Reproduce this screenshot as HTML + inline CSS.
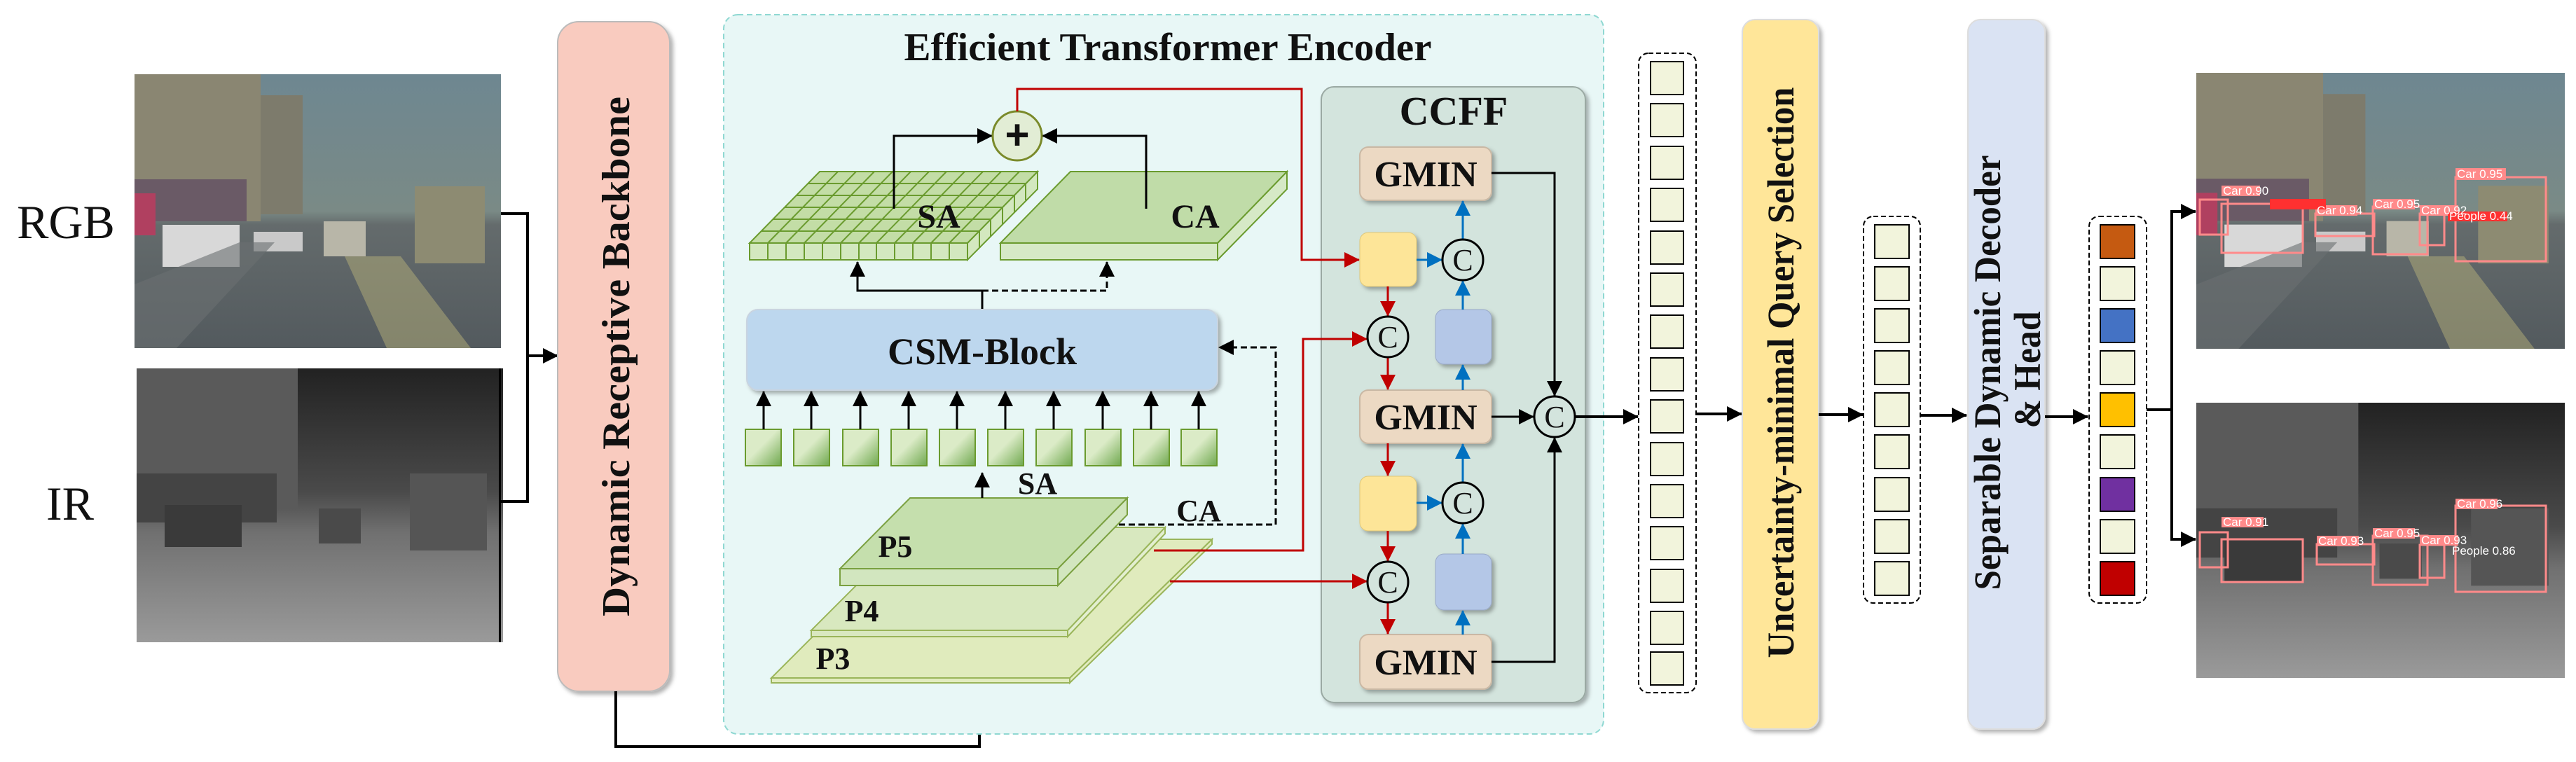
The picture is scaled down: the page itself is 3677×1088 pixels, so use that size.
<!DOCTYPE html>
<html><head><meta charset="utf-8"><style>
html,body{margin:0;padding:0;background:#fff;}
svg{display:block;}
text{font-family:"Liberation Serif",serif;font-weight:bold;fill:#111;}
.lbl{font-family:"Liberation Sans",sans-serif;font-weight:normal;fill:#fff;font-size:17px;}
</style></head><body>
<svg width="3677" height="1088" viewBox="0 0 3677 1088" xmlns="http://www.w3.org/2000/svg">
<defs>
<marker id="akb" markerWidth="22" markerHeight="22" refX="21" refY="11" orient="auto" markerUnits="userSpaceOnUse"><path d="M0,0 L22,11 L0,22 z" fill="#000"/></marker>
<marker id="ar" markerWidth="22" markerHeight="22" refX="21" refY="11" orient="auto" markerUnits="userSpaceOnUse"><path d="M0,0 L22,11 L0,22 z" fill="#c00000"/></marker>
<marker id="ab" markerWidth="22" markerHeight="22" refX="21" refY="11" orient="auto" markerUnits="userSpaceOnUse"><path d="M0,0 L22,11 L0,22 z" fill="#0070c0"/></marker>
<linearGradient id="sq" x1="0" y1="0" x2="1" y2="1"><stop offset="0.45" stop-color="#dbebc7"/><stop offset="1" stop-color="#6fa84e"/></linearGradient>
<linearGradient id="rgbg" x1="0" y1="0" x2="0" y2="1"><stop offset="0" stop-color="#6e8791"/><stop offset="0.5" stop-color="#7a8a86"/><stop offset="0.55" stop-color="#646b6c"/><stop offset="1" stop-color="#535a5e"/></linearGradient>
<linearGradient id="irg" x1="0" y1="0" x2="0" y2="1"><stop offset="0" stop-color="#222"/><stop offset="0.45" stop-color="#4a4a4a"/><stop offset="0.6" stop-color="#707070"/><stop offset="1" stop-color="#9a9a9a"/></linearGradient>
<filter id="sh" x="-10%" y="-10%" width="130%" height="130%"><feDropShadow dx="4" dy="4" stdDeviation="3" flood-color="#000" flood-opacity="0.3"/></filter>
<g id="rgbpic">
<rect width="523" height="391" fill="url(#rgbg)"/>
<rect x="0" y="0" width="180" height="210" fill="#8a8672"/>
<rect x="180" y="30" width="60" height="170" fill="#7d7b6c"/>
<rect x="0" y="150" width="160" height="60" fill="#6a5a66"/>
<rect x="0" y="170" width="30" height="60" fill="#b04060"/>
<rect x="400" y="160" width="100" height="110" fill="#8d8b72"/>
<rect x="270" y="210" width="60" height="50" fill="#b8b6a8"/>
<rect x="40" y="215" width="110" height="60" fill="#d8d8d8"/>
<rect x="170" y="225" width="70" height="28" fill="#c9c9c9"/>
<path d="M0,300 L150,240 L200,240 L60,391 L0,391z" fill="#6b7072" opacity="0.6"/>
<path d="M300,260 L380,260 L480,391 L360,391z" fill="#b5b07a" opacity="0.5"/>
</g>
<g id="irpic">
<rect width="523" height="391" fill="url(#irg)"/>
<rect x="0" y="0" width="230" height="200" fill="#5a5a5a"/>
<rect x="0" y="150" width="200" height="70" fill="#444"/>
<rect x="390" y="150" width="110" height="110" fill="#555"/>
<rect x="40" y="195" width="110" height="60" fill="#3a3a3a"/>
<rect x="260" y="200" width="60" height="50" fill="#4a4a4a"/>
</g>
</defs>

<use href="#rgbpic" x="192" y="106"/>
<use href="#irpic" x="195" y="526"/>
<rect x="712" y="526" width="3" height="391" fill="#000"/>
<text x="94" y="340" font-size="68" text-anchor="middle" style="font-weight:normal">RGB</text>
<text x="100" y="742" font-size="68" text-anchor="middle" style="font-weight:normal">IR</text>
<polyline points="715,305 753,305 753,716 715,716" fill="none" stroke="#000" stroke-width="4"/>
<line x1="753" y1="508" x2="796" y2="508" stroke="#000" stroke-width="4" marker-end="url(#akb)"/>

<rect x="796" y="31" width="160" height="956" rx="30" fill="#f9cbbf" stroke="#bbb" stroke-width="2" filter="url(#sh)"/>
<text transform="translate(898,509) rotate(-90)" font-size="56" text-anchor="middle" textLength="742" lengthAdjust="spacingAndGlyphs">Dynamic Receptive  Backbone</text>
<polyline points="879,987 879,1066 1398,1066 1398,1020" fill="none" stroke="#000" stroke-width="4" marker-end="url(#akb)"/>

<rect x="1033" y="21" width="1256" height="1027" rx="20" fill="#e8f7f6" stroke="#8fd8d2" stroke-width="2" stroke-dasharray="8,5"/>
<text x="1667" y="86" font-size="56" text-anchor="middle" textLength="753" lengthAdjust="spacingAndGlyphs">Efficient Transformer Encoder</text>

<!-- CCFF panel (drawn before red connectors) -->
<rect x="1886" y="124" width="377" height="879" rx="18" fill="#d3e4dd" stroke="#9aa9a3" stroke-width="2" filter="url(#sh)"/>
<text x="2075" y="178" font-size="58" text-anchor="middle">CCFF</text>

<polygon points="1070,347 1381,347 1381,371 1070,371" fill="#d3e8bf" stroke="#6a9b2e" stroke-width="2"/>
<polygon points="1381,347 1481,245 1481,270 1381,371" fill="#d3e8bf" stroke="#6a9b2e" stroke-width="2"/>
<polygon points="1170,245 1481,245 1381,347 1070,347" fill="#c3dda6" stroke="#6a9b2e" stroke-width="2"/>
<g stroke="#6a9b2e" stroke-width="2">
<line x1="1196" y1="245" x2="1096" y2="347"/><line x1="1222" y1="245" x2="1122" y2="347"/><line x1="1248" y1="245" x2="1148" y2="347"/><line x1="1274" y1="245" x2="1174" y2="347"/><line x1="1300" y1="245" x2="1200" y2="347"/><line x1="1326" y1="245" x2="1226" y2="347"/><line x1="1351" y1="245" x2="1251" y2="347"/><line x1="1377" y1="245" x2="1277" y2="347"/><line x1="1403" y1="245" x2="1303" y2="347"/><line x1="1429" y1="245" x2="1329" y2="347"/><line x1="1455" y1="245" x2="1355" y2="347"/>
<line x1="1153" y1="262" x2="1464" y2="262"/><line x1="1137" y1="279" x2="1448" y2="279"/><line x1="1120" y1="296" x2="1431" y2="296"/><line x1="1103" y1="313" x2="1414" y2="313"/><line x1="1087" y1="330" x2="1398" y2="330"/>
<line x1="1096" y1="347" x2="1096" y2="371"/><line x1="1122" y1="347" x2="1122" y2="371"/><line x1="1148" y1="347" x2="1148" y2="371"/><line x1="1174" y1="347" x2="1174" y2="371"/><line x1="1200" y1="347" x2="1200" y2="371"/><line x1="1226" y1="347" x2="1226" y2="371"/><line x1="1251" y1="347" x2="1251" y2="371"/><line x1="1277" y1="347" x2="1277" y2="371"/><line x1="1303" y1="347" x2="1303" y2="371"/><line x1="1329" y1="347" x2="1329" y2="371"/><line x1="1355" y1="347" x2="1355" y2="371"/>
<line x1="1398" y1="330" x2="1398" y2="354"/><line x1="1414" y1="313" x2="1414" y2="337"/><line x1="1431" y1="296" x2="1431" y2="320"/><line x1="1448" y1="279" x2="1448" y2="303"/><line x1="1464" y1="262" x2="1464" y2="286"/>
</g>
<polygon points="1428,347 1738,347 1738,371 1428,371" fill="#d6e9c6" stroke="#6a9b2e" stroke-width="2"/>
<polygon points="1738,347 1837,245 1837,270 1738,371" fill="#d6e9c6" stroke="#6a9b2e" stroke-width="2"/>
<polygon points="1528,245 1837,245 1738,347 1428,347" fill="#c0dca8" stroke="#6a9b2e" stroke-width="2"/>
<text x="1340" y="325" font-size="48" text-anchor="middle">SA</text>
<text x="1706" y="325" font-size="48" text-anchor="middle">CA</text>

<polyline points="1276,298 1276,194 1416,194" fill="none" stroke="#000" stroke-width="3" marker-end="url(#akb)"/>
<polyline points="1636,298 1636,194 1488,194" fill="none" stroke="#000" stroke-width="3" marker-end="url(#akb)"/>
<circle cx="1452" cy="194" r="35" fill="#e2edd5" stroke="#7a8a2a" stroke-width="3"/>
<text x="1452" y="213" font-size="60" text-anchor="middle" style="font-family:'Liberation Sans',sans-serif">+</text>
<polyline points="1452,159 1452,127 1858,127 1858,371 1940,371" fill="none" stroke="#c00000" stroke-width="3" marker-end="url(#ar)"/>

<line x1="1402" y1="441" x2="1402" y2="415" stroke="#000" stroke-width="3"/>
<polyline points="1402,415 1224,415 1224,374" fill="none" stroke="#000" stroke-width="3" marker-end="url(#akb)"/>
<polyline points="1402,415 1580,415 1580,374" fill="none" stroke="#000" stroke-width="3" stroke-dasharray="9,5" marker-end="url(#akb)"/>
<rect x="1066" y="442" width="672" height="115" rx="16" fill="#bdd7ee" stroke="#c9d4e0" stroke-width="2" filter="url(#sh)"/>
<text x="1402" y="520" font-size="54" text-anchor="middle">CSM-Block</text>

<g stroke="#6a9b2e" stroke-width="2" fill="url(#sq)">
<rect x="1064" y="613" width="51" height="52"/><rect x="1133" y="613" width="51" height="52"/><rect x="1203" y="613" width="51" height="52"/><rect x="1272" y="613" width="51" height="52"/><rect x="1341" y="613" width="51" height="52"/><rect x="1410" y="613" width="51" height="52"/><rect x="1479" y="613" width="51" height="52"/><rect x="1549" y="613" width="51" height="52"/><rect x="1618" y="613" width="51" height="52"/><rect x="1686" y="613" width="51" height="52"/>
</g>
<g stroke="#000" stroke-width="3">
<line x1="1090" y1="613" x2="1090" y2="559" marker-end="url(#akb)"/><line x1="1158" y1="613" x2="1158" y2="559" marker-end="url(#akb)"/><line x1="1228" y1="613" x2="1228" y2="559" marker-end="url(#akb)"/><line x1="1297" y1="613" x2="1297" y2="559" marker-end="url(#akb)"/><line x1="1366" y1="613" x2="1366" y2="559" marker-end="url(#akb)"/><line x1="1435" y1="613" x2="1435" y2="559" marker-end="url(#akb)"/><line x1="1504" y1="613" x2="1504" y2="559" marker-end="url(#akb)"/><line x1="1574" y1="613" x2="1574" y2="559" marker-end="url(#akb)"/><line x1="1643" y1="613" x2="1643" y2="559" marker-end="url(#akb)"/><line x1="1711" y1="613" x2="1711" y2="559" marker-end="url(#akb)"/>
</g>

<polygon points="1101,968 1527,968 1527,975 1101,975" fill="#e2ecc0" stroke="#9ab55a" stroke-width="2"/>
<polygon points="1527,968 1730,770 1730,777 1527,975" fill="#e2ecc0" stroke="#9ab55a" stroke-width="2"/>
<polygon points="1299,770 1730,770 1527,968 1101,968" fill="#e0ebbd" stroke="#9ab55a" stroke-width="2"/>
<polygon points="1158,900 1524,900 1524,909 1158,909" fill="#d9e8c0" stroke="#9ab55a" stroke-width="2"/>
<polygon points="1524,900 1663,753 1663,762 1524,909" fill="#e3efd0" stroke="#9ab55a" stroke-width="2"/>
<polygon points="1305,753 1663,753 1524,900 1158,900" fill="#d8e8bf" stroke="#9ab55a" stroke-width="2"/>
<polygon points="1199,812 1510,812 1510,836 1199,836" fill="#d2e6bf" stroke="#7aa040" stroke-width="2"/>
<polygon points="1510,812 1609,711 1609,735 1510,836" fill="#d2e6bf" stroke="#7aa040" stroke-width="2"/>
<polygon points="1299,711 1609,711 1510,812 1199,812" fill="#c5dfad" stroke="#7aa040" stroke-width="2"/>
<text x="1278" y="795" font-size="44" text-anchor="middle">P5</text>
<text x="1230" y="887" font-size="44" text-anchor="middle">P4</text>
<text x="1189" y="955" font-size="44" text-anchor="middle">P3</text>
<line x1="1402" y1="711" x2="1402" y2="675" stroke="#000" stroke-width="3" marker-end="url(#akb)"/>
<text x="1481" y="705" font-size="44" text-anchor="middle">SA</text>
<text x="1711" y="744" font-size="44" text-anchor="middle">CA</text>
<polyline points="1597,749 1821,749 1821,496 1740,496" fill="none" stroke="#000" stroke-width="3" stroke-dasharray="9,5" marker-end="url(#akb)"/>
<polyline points="1647,786 1860,786 1860,484 1951,484" fill="none" stroke="#c00000" stroke-width="3" marker-end="url(#ar)"/>
<polyline points="1670,830 1951,830" fill="none" stroke="#c00000" stroke-width="3" marker-end="url(#ar)"/>

<g filter="url(#sh)">
<rect x="1941" y="210" width="188" height="76" rx="12" fill="#ecd9c3" stroke="#c9b8a4" stroke-width="2"/>
<rect x="1941" y="557" width="188" height="76" rx="12" fill="#ecd9c3" stroke="#c9b8a4" stroke-width="2"/>
<rect x="1941" y="906" width="188" height="78" rx="12" fill="#ecd9c3" stroke="#c9b8a4" stroke-width="2"/>
<rect x="1941" y="332" width="81" height="77" rx="12" fill="#fde598" stroke="#e0c878" stroke-width="1"/>
<rect x="1941" y="680" width="81" height="78" rx="12" fill="#fde598" stroke="#e0c878" stroke-width="1"/>
<rect x="2049" y="442" width="80" height="78" rx="12" fill="#b4c7e7" stroke="#9aaac8" stroke-width="1"/>
<rect x="2049" y="791" width="80" height="80" rx="12" fill="#b4c7e7" stroke="#9aaac8" stroke-width="1"/>
</g>
<text x="2035" y="266" font-size="52" text-anchor="middle">GMIN</text>
<text x="2035" y="613" font-size="52" text-anchor="middle">GMIN</text>
<text x="2035" y="963" font-size="52" text-anchor="middle">GMIN</text>
<g stroke="#c00000" stroke-width="3">
<line x1="1981" y1="409" x2="1981" y2="451" marker-end="url(#ar)"/>
<line x1="1981" y1="510" x2="1981" y2="556" marker-end="url(#ar)"/>
<line x1="1981" y1="633" x2="1981" y2="679" marker-end="url(#ar)"/>
<line x1="1981" y1="758" x2="1981" y2="801" marker-end="url(#ar)"/>
<line x1="1981" y1="860" x2="1981" y2="905" marker-end="url(#ar)"/>
</g>
<g stroke="#0070c0" stroke-width="3">
<line x1="2022" y1="371" x2="2058" y2="371" marker-end="url(#ab)"/>
<line x1="2022" y1="718" x2="2058" y2="718" marker-end="url(#ab)"/>
<line x1="2088" y1="342" x2="2088" y2="287" marker-end="url(#ab)"/>
<line x1="2088" y1="442" x2="2088" y2="401" marker-end="url(#ab)"/>
<line x1="2088" y1="557" x2="2088" y2="521" marker-end="url(#ab)"/>
<line x1="2088" y1="689" x2="2088" y2="634" marker-end="url(#ab)"/>
<line x1="2088" y1="791" x2="2088" y2="748" marker-end="url(#ab)"/>
<line x1="2088" y1="906" x2="2088" y2="872" marker-end="url(#ab)"/>
</g>
<g stroke="#000" stroke-width="3" fill="none">
<polyline points="2129,247 2219,247 2219,565" marker-end="url(#akb)"/>
<line x1="2129" y1="595" x2="2189" y2="595" marker-end="url(#akb)"/>
<polyline points="2129,945 2219,945 2219,625" marker-end="url(#akb)"/>
</g>
<g fill="#d3e4dd" stroke="#000" stroke-width="3">
<circle cx="2088" cy="371" r="29"/><circle cx="2088" cy="718" r="29"/>
<circle cx="1981" cy="481" r="29"/><circle cx="1981" cy="831" r="29"/>
<circle cx="2219" cy="595" r="29"/>
</g>
<g font-size="44" text-anchor="middle">
<text x="2088" y="386" style="font-weight:normal">C</text><text x="2088" y="733" style="font-weight:normal">C</text>
<text x="1981" y="496" style="font-weight:normal">C</text><text x="1981" y="846" style="font-weight:normal">C</text>
<text x="2219" y="610" style="font-weight:normal">C</text>
</g>
<line x1="2248" y1="595" x2="2338" y2="595" stroke="#000" stroke-width="4" marker-end="url(#akb)"/>

<rect x="2339" y="76" width="82" height="913" rx="14" fill="#fff" stroke="#000" stroke-width="2" stroke-dasharray="7,4"/>
<g fill="#f2f4dc" stroke="#000" stroke-width="2">
<rect x="2356" y="88" width="47" height="47"/><rect x="2356" y="148" width="47" height="47"/><rect x="2356" y="209" width="47" height="47"/><rect x="2356" y="269" width="47" height="47"/><rect x="2356" y="330" width="47" height="47"/><rect x="2356" y="390" width="47" height="47"/><rect x="2356" y="450" width="47" height="47"/><rect x="2356" y="511" width="47" height="47"/><rect x="2356" y="571" width="47" height="47"/><rect x="2356" y="632" width="47" height="47"/><rect x="2356" y="692" width="47" height="47"/><rect x="2356" y="752" width="47" height="47"/><rect x="2356" y="813" width="47" height="47"/><rect x="2356" y="873" width="47" height="47"/><rect x="2356" y="931" width="47" height="47"/>
</g>
<line x1="2421" y1="591" x2="2486" y2="591" stroke="#000" stroke-width="4" marker-end="url(#akb)"/>
<rect x="2487" y="28" width="109" height="1013" rx="18" fill="#ffe699" stroke="#ddd" stroke-width="2" filter="url(#sh)"/>
<text transform="translate(2560,532) rotate(-90)" font-size="54" text-anchor="middle" textLength="815" lengthAdjust="spacingAndGlyphs">Uncertainty-minimal Query Selection</text>
<line x1="2596" y1="592" x2="2659" y2="592" stroke="#000" stroke-width="4" marker-end="url(#akb)"/>

<rect x="2660" y="309" width="81" height="552" rx="14" fill="#fff" stroke="#000" stroke-width="2" stroke-dasharray="7,4"/>
<g fill="#f2f4dc" stroke="#000" stroke-width="2">
<rect x="2676" y="321" width="49" height="48"/><rect x="2676" y="381" width="49" height="48"/><rect x="2676" y="441" width="49" height="48"/><rect x="2676" y="501" width="49" height="48"/><rect x="2676" y="561" width="49" height="48"/><rect x="2676" y="621" width="49" height="48"/><rect x="2676" y="682" width="49" height="48"/><rect x="2676" y="742" width="49" height="48"/><rect x="2676" y="802" width="49" height="48"/>
</g>
<line x1="2741" y1="593" x2="2807" y2="593" stroke="#000" stroke-width="4" marker-end="url(#akb)"/>
<rect x="2809" y="28" width="110" height="1013" rx="18" fill="#dae3f3" stroke="#ddd" stroke-width="2" filter="url(#sh)"/>
<text transform="translate(2855,532) rotate(-90)" font-size="54" text-anchor="middle" textLength="621" lengthAdjust="spacingAndGlyphs">Separable Dynamic Decoder</text>
<text transform="translate(2912,528) rotate(-90)" font-size="54" text-anchor="middle" textLength="167" lengthAdjust="spacingAndGlyphs">&amp; Head</text>
<line x1="2919" y1="595" x2="2980" y2="595" stroke="#000" stroke-width="4" marker-end="url(#akb)"/>

<rect x="2982" y="309" width="82" height="552" rx="14" fill="#fff" stroke="#000" stroke-width="2" stroke-dasharray="7,4"/>
<g stroke="#000" stroke-width="2">
<rect x="2998" y="321" width="49" height="48" fill="#c55a11"/><rect x="2998" y="381" width="49" height="48" fill="#f2f4dc"/><rect x="2998" y="441" width="49" height="48" fill="#4472c4"/><rect x="2998" y="501" width="49" height="48" fill="#f2f4dc"/><rect x="2998" y="561" width="49" height="48" fill="#ffc000"/><rect x="2998" y="621" width="49" height="48" fill="#f2f4dc"/><rect x="2998" y="682" width="49" height="48" fill="#7030a0"/><rect x="2998" y="742" width="49" height="48" fill="#f2f4dc"/><rect x="2998" y="802" width="49" height="48" fill="#c00000"/>
</g>
<polyline points="3064,585 3100,585" fill="none" stroke="#000" stroke-width="4"/>
<line x1="3100" y1="300" x2="3100" y2="772" stroke="#000" stroke-width="4"/>
<line x1="3100" y1="302" x2="3134" y2="302" stroke="#000" stroke-width="4" marker-end="url(#akb)"/>
<line x1="3100" y1="770" x2="3134" y2="770" stroke="#000" stroke-width="4" marker-end="url(#akb)"/>

<svg x="3135" y="104" width="526" height="394" viewBox="0 0 523 391" preserveAspectRatio="none"><use href="#rgbpic"/></svg>
<svg x="3135" y="575" width="526" height="393" viewBox="0 0 523 391" preserveAspectRatio="none"><use href="#irpic"/></svg>
<g fill="none" stroke="#ff8a8a" stroke-width="3">
<rect x="3505" y="253" width="129" height="120"/><rect x="3171" y="291" width="116" height="70"/><rect x="3305" y="305" width="84" height="32"/><rect x="3387" y="295" width="78" height="68"/><rect x="3454" y="305" width="35" height="45"/><rect x="3140" y="285" width="40" height="50"/>
<rect x="3505" y="722" width="129" height="123"/><rect x="3171" y="770" width="116" height="61"/><rect x="3307" y="777" width="82" height="29"/><rect x="3387" y="765" width="78" height="70"/><rect x="3454" y="778" width="35" height="47"/><rect x="3140" y="760" width="40" height="50"/>
</g>
<g fill="#ff8a8a">
<rect x="3505" y="240" width="72" height="17"/><rect x="3171" y="265" width="55" height="15"/><rect x="3305" y="293" width="60" height="15"/><rect x="3387" y="284" width="60" height="15"/><rect x="3454" y="293" width="55" height="15"/>
<rect x="3505" y="712" width="60" height="15"/><rect x="3171" y="738" width="60" height="15"/><rect x="3307" y="765" width="60" height="15"/><rect x="3387" y="754" width="60" height="15"/><rect x="3454" y="764" width="55" height="15"/>
</g>
<rect x="3240" y="284" width="80" height="15" fill="#ff3030"/><rect x="3494" y="302" width="85" height="14" fill="#ff3030"/>
<g>
<text class="lbl" x="3507" y="254">Car 0.95</text><text class="lbl" x="3173" y="278">Car 0.90</text><text class="lbl" x="3307" y="306">Car 0.94</text><text class="lbl" x="3389" y="297">Car 0.95</text><text class="lbl" x="3456" y="306">Car 0.92</text><text class="lbl" x="3496" y="314">People 0.44</text>
<text class="lbl" x="3507" y="725">Car 0.96</text><text class="lbl" x="3173" y="751">Car 0.91</text><text class="lbl" x="3309" y="778">Car 0.93</text><text class="lbl" x="3389" y="767">Car 0.95</text><text class="lbl" x="3456" y="777">Car 0.93</text><text class="lbl" x="3500" y="792">People 0.86</text>
</g>
</svg>
</body></html>
